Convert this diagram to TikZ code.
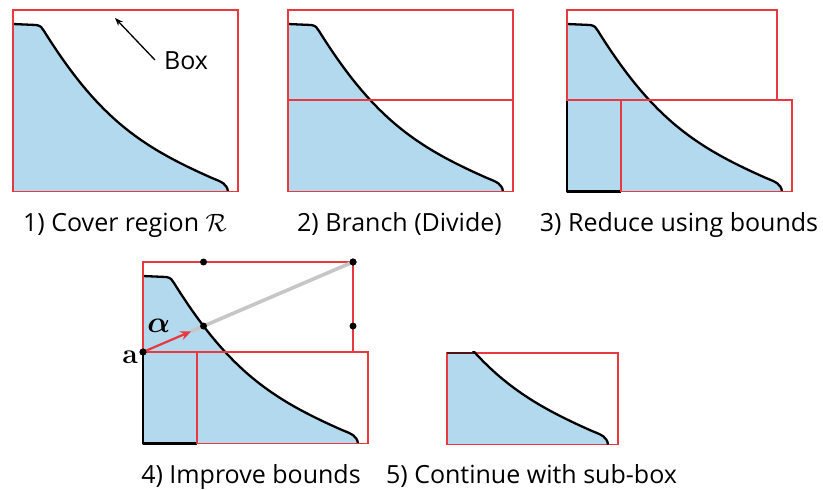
\RequirePackage{fix-cm}
\documentclass[tikz,border=0pt]{standalone}
\usepackage[no-math]{fontspec}
\setmainfont{Open Sans}
\usepackage{bm}
\usetikzlibrary{positioning,calc,intersections,arrows.meta}
\definecolor{skyfill}{HTML}{B3D9EE}
\definecolor{boxred}{HTML}{E9393F}
% region under the frontier, in panel coordinates
\newcommand{\regionfill}{%
  \fill[skyfill] (13,24) -- (36,25) .. controls (41,25.5) and (42,28) .. (44,31)
    .. controls (99,119) and (142,147) .. (212,178)
    .. controls (222,182) and (227,184) .. (228,191.5) -- (13,191.5) -- cycle;
}
\newcommand{\frontier}[1]{%
  \draw[edge,name path global=#1] (13,24) -- (36,25) .. controls (41,25.5) and (42,28) .. (44,31)
    .. controls (99,119) and (142,147) .. (212,178)
    .. controls (222,182) and (227,184) .. (228,191.5);
}

\begin{document}
\begin{tikzpicture}[x=1pt,y=-1pt,
  edge/.style={line width=2.3pt,line join=round},
  redbox/.style={draw=boxred,line width=1.9pt},
  caption/.style={font=\fontsize{25}{28}\selectfont,anchor=base,inner sep=0pt},
  dot/.style={circle,fill=black,inner sep=0pt,minimum size=7pt}]
  \useasboundingbox (0,0) rectangle (823,490);

  % 1) cover
  \begin{scope}
    \regionfill
    \frontier{front1}
    \draw[redbox] (13,10) rectangle (238,191.5);
    \node[font=\fontsize{25}{28}\selectfont,inner sep=0pt] (boxlbl) at (186,61) {Box};
    \coordinate (boxtail) at (155,60);
    \coordinate (boxtip) at (115,18);
    \draw[line width=1.3pt,-{Stealth[length=8pt,width=6pt]}] (boxtail) -- (boxtip);
  \end{scope}
  \node[caption] (cap1) at (125,231) {1) Cover region $\mathcal{R}$};

  % 2) branch
  \begin{scope}[shift={(275,0)}]
    \regionfill
    \frontier{front2}
    \draw[redbox] (13,10) rectangle (238,191.5);
    \draw[redbox] (13,100) -- (238,100);
  \end{scope}
  \node[caption] (cap2) at (399.5,231) {2) Branch (Divide)};

  % 3) reduce
  \begin{scope}[shift={(554,0)}]
    \regionfill
    \frontier{front3}
    \draw[edge] (13,100) -- (13,191.5) -- (67,191.5);
    \draw[redbox] (13,10) rectangle (223,100);
    \draw[redbox] (67,100) rectangle (238,191.5);
  \end{scope}
  \node[caption] (cap3) at (679,231) {3) Reduce using bounds};

  % 4) improve
  \begin{scope}[shift={(130,252)}]
    \regionfill
    \frontier{front4}
    \draw[edge] (13,100) -- (13,191.5) -- (67,191.5);
    \draw[redbox] (13,100) -- (13,10) -- (223,10) -- (223,100);
    \draw[redbox] (13,100) -- (67,100);
    \draw[redbox] (67,100) rectangle (238,191.5);
    \node[dot] (ptA) at (13,100) {};
    \node[dot] (ptC) at (223,10) {};
    \path[name path=ray] (ptA.center) -- (ptC.center);
    \path[name intersections={of=ray and front4}] coordinate (hit) at (intersection-1);
    \coordinate (tip) at ($(ptA.center)!0.8!(hit)$);
    \draw[gray!45,line width=3.6pt] (tip) -- (ptC.center);
    \draw[boxred,line width=2.2pt,-{Stealth[length=11pt,width=9pt]}] (ptA.center) -- (tip);
    \node[dot] (ptH) at (hit) {};
    \node[dot] (ptTop) at (hit |- ptC) {};
    \node[dot] (ptRight) at (ptC |- hit) {};
    \node[dot] at (ptA) {};
    \node[dot] at (ptC) {};
    \node[anchor=east,inner sep=0pt,font=\fontsize{28}{30}\selectfont] (alabel)
      at ($(ptA)+(-5,5)$) {$\mathbf{a}$};
    \node[inner sep=0pt,font=\fontsize{30}{32}\selectfont] (alphalbl)
      at ($(ptA)!0.45!(tip)+(-6,-17)$) {$\bm{\alpha}$};
  \end{scope}
  \node[caption] (cap4) at (251,483) {4) Improve bounds};

  % 5) continue
  \begin{scope}[shift={(380,253)}]
    \begin{scope}
      \clip (67,100) rectangle (238,191.5);
      \regionfill
    \end{scope}
    \draw[redbox] (67,100) rectangle (238,191.5);
    \begin{scope}
      \clip (67,98) rectangle (238,191.5);
      \frontier{front5}
    \end{scope}
    \path[name path=cut5] (67,100) -- (238,100);
    \path[name intersections={of=cut5 and front5}] coordinate (cut) at (intersection-1);
    \draw[line width=1.4pt] (67,100) -- (cut);
  \end{scope}
  \node[caption] (cap5) at (531.5,483) {5) Continue with sub-box};
\end{tikzpicture}
\end{document}
